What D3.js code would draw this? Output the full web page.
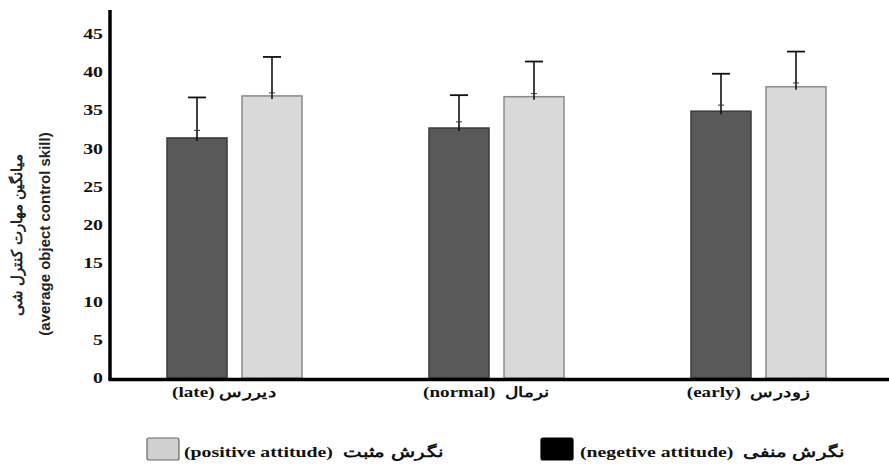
<!DOCTYPE html>
<html><head><meta charset="utf-8">
<script src="https://cdn.jsdelivr.net/npm/d3@7"></script>
<style>body{margin:0;background:#fff}svg{display:block}text{white-space:pre}</style>
</head><body>
<svg id="c" width="889" height="466"></svg>
<script>
const categories = ["late", "normal", "early"];
const categoryLabels = ["(late) دیررس", "(normal)  نرمال", "(early)  زودرس"];
const seriesKeys = ["negative", "positive"];
const negativeMean = [31.4, 32.7, 34.9];
const positiveMean = [36.9, 36.8, 38.1];
const negativeUpper = [36.7, 37.0, 39.8];
const positiveUpper = [42.0, 41.4, 42.7];
const negativeMark = [32.4, 33.5, 35.7];
const positiveMark = [37.3, 37.2, 38.6];
const yTicks = [0, 5, 10, 15, 20, 25, 30, 35, 40, 45];
const legendLabels = ["(positive attitude)  نگرش مثبت", "(negetive attitude)  نگرش منفی"];

const svg = d3.select("#c");
const y = d3.scaleLinear().domain([0, 45]).range([378, 34]);
const x0 = d3.scaleBand().domain(categories).range([103.5, 889.5]).padding(0);
const x1 = d3.scaleBand().domain(seriesKeys).range([0, 135]).paddingInner(0.2);
const fills = {negative: "#595959", positive: "#d9d9d9"};
const strokes = {negative: "#3a3a3a", positive: "#8a8a8a"};
const serif = "'Liberation Serif','Times New Roman',serif";
const SX = 1.32;

const rows = categories.map((c, i) => ({
  cat: c,
  vals: [
    {k: "negative", v: negativeMean[i], up: negativeUpper[i], mk: negativeMark[i]},
    {k: "positive", v: positiveMean[i], up: positiveUpper[i], mk: positiveMark[i]}
  ]
}));

const g = svg.selectAll("g.grp").data(rows).join("g")
  .attr("transform", d => `translate(${x0(d.cat) + (x0.bandwidth() - 135) / 2},0)`);

g.selectAll("rect").data(d => d.vals).join("rect")
  .attr("x", d => x1(d.k)).attr("width", x1.bandwidth())
  .attr("y", d => y(d.v)).attr("height", d => y(0) - y(d.v))
  .attr("fill", d => fills[d.k]).attr("stroke", d => strokes[d.k]).attr("stroke-width", 1.5);

// error bars
const eb = g.selectAll("g.eb").data(d => d.vals).join("g").attr("class", "eb");
eb.append("line")
  .attr("x1", d => x1(d.k) + x1.bandwidth() / 2).attr("x2", d => x1(d.k) + x1.bandwidth() / 2)
  .attr("y1", d => y(d.up)).attr("y2", d => y(d.v) + 3)
  .attr("stroke", "#111").attr("stroke-width", 1.6);
eb.append("line")
  .attr("x1", d => x1(d.k) + x1.bandwidth() / 2 - 9).attr("x2", d => x1(d.k) + x1.bandwidth() / 2 + 9)
  .attr("y1", d => y(d.up)).attr("y2", d => y(d.up))
  .attr("stroke", "#111").attr("stroke-width", 1.8);
eb.append("line")
  .attr("x1", d => x1(d.k) + x1.bandwidth() / 2 - 3).attr("x2", d => x1(d.k) + x1.bandwidth() / 2 + 3)
  .attr("y1", d => y(d.mk)).attr("y2", d => y(d.mk))
  .attr("stroke", "#333").attr("stroke-width", 1);

// axes
svg.append("line").attr("x1", 110).attr("x2", 110).attr("y1", 10).attr("y2", y(0) + 2)
  .attr("stroke", "#000").attr("stroke-width", 3.5);
svg.append("line").attr("x1", 108.5).attr("x2", 889).attr("y1", y(0) + 1.5).attr("y2", y(0) + 1.5)
  .attr("stroke", "#000").attr("stroke-width", 3.5);

// y tick labels
svg.selectAll("text.yt").data(yTicks).join("text").attr("class", "yt")
  .attr("transform", d => `translate(103,${y(d) + 5}) scale(${SX},1)`)
  .attr("text-anchor", "end").attr("font-family", serif).attr("font-weight", "bold")
  .attr("font-size", 15).attr("fill", "#111").text(d => d);

// category labels
svg.selectAll("text.xl").data(categories).join("text").attr("class", "xl")
  .attr("transform", (d) => `translate(${x0(d) + x0.bandwidth() / 2 - 10},397) scale(${SX},1)`)
  .attr("text-anchor", "middle").attr("font-family", serif).attr("font-weight", "bold")
  .attr("font-size", 14.5).attr("fill", "#111").text((d, i) => categoryLabels[i]);

// y title
svg.append("text").attr("transform", "translate(22,235) rotate(-90)")
  .attr("text-anchor", "middle").attr("font-family", "'Liberation Sans',Arial,sans-serif")
  .attr("font-weight", "bold").attr("font-size", 15).attr("fill", "#222")
  .text("میانگین مهارت کنترل شی");
svg.append("text").attr("transform", "translate(50,234) rotate(-90)")
  .attr("text-anchor", "middle").attr("font-family", "'Liberation Sans',Arial,sans-serif")
  .attr("font-weight", "bold").attr("font-size", 15).attr("fill", "#222")
  .text("(average object control skill)");

// legend
const leg = [
  {k: "positive", sx: 147, tx: 184, label: legendLabels[0]},
  {k: "negative", sx: 541, tx: 580, label: legendLabels[1]}
];
leg.forEach(l => {
  svg.append("rect").attr("x", l.sx).attr("y", 438).attr("width", 32).attr("height", 22).attr("rx", 2)
    .attr("fill", l.k === "positive" ? "#d0d0d0" : "#000")
    .attr("stroke", l.k === "positive" ? "#666" : "#000").attr("stroke-width", 1.2);
  svg.append("text").attr("transform", `translate(${l.tx},457) scale(${SX},1)`)
    .attr("font-family", serif).attr("font-weight", "bold").attr("font-size", 15)
    .attr("fill", "#111").text(l.label);
});
</script>
</body></html>
